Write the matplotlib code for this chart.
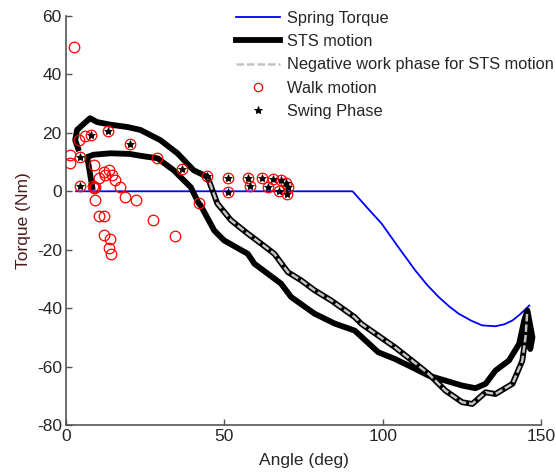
import matplotlib.pyplot as plt

plt.rcParams['font.family'] = ['Liberation Sans', 'DejaVu Sans']
plt.rcParams['axes.unicode_minus'] = False

# Spring torque curve
spring_angle = [3.2, 20, 40, 60, 80, 90.5, 95, 99.7, 105, 110.3, 114, 117.7, 121, 124,
                128, 131.4, 135.6, 138.5, 141, 143.5, 146.3]
spring_torque = [0, 0, 0, 0, 0, 0, -5.5, -11.1, -19.2, -27.1, -32.0, -36.2, -39.4, -41.9,
                 -44.3, -45.9, -46.2, -45.5, -44.2, -42.0, -39.1]

# STS motion (one continuous loop, lower branch out, upper branch back)
sts_angle = [8.3, 7.6, 6.7, 8.6, 14.0, 20.0, 24.4, 28.9, 34.0, 39.4, 41.9,
             42.5, 46.8, 49.9, 57.4, 59.5, 67.9, 71.1, 78.5, 84.9, 91.2, 98.6,
             103.9, 109.2, 114.5, 119.8, 125.1, 129.3, 132.5, 135.6, 139.9, 143.1,
             144.7, 145.7, 147.3, 146.6, 145.6,
             145.1, 144.1, 141.0, 135.6, 132.5, 128.3, 125.1, 119.8, 114.5, 109.2,
             103.9, 98.6, 93.3, 91.2, 83.8, 78.5, 74.3, 70.1, 65.8, 61.6, 57.4,
             52.1, 47.8, 44.7,
             40.3, 35.2, 29.8, 23.5, 19.4, 14.0, 9.8, 7.6, 5.5, 3.5, 2.9, 3.8]
sts_torque = [1.4, 6.0, 11.7, 12.5, 13.0, 12.8, 12.0, 11.3, 7.2, 1.4, -4.1,
              -4.8, -13.4, -16.8, -21.4, -24.8, -31.6, -36.2, -41.9, -45.3, -47.7, -55.1,
              -57.4, -60.2, -63.1, -64.8, -66.5, -67.4, -65.9, -61.4, -57.9, -52.2,
              -44.2, -40.8, -50.0, -54.0, -42.0,
              -50.0, -58.0, -65.9, -69.4, -68.8, -72.8, -72.2, -68.2, -62.5, -57.9,
              -53.4, -49.4, -45.4, -43.1, -37.4, -33.9, -30.5, -27.7, -21.4, -17.9, -14.5,
              -9.9, -4.2, 4.9,
              7.2, 13.0, 17.5, 21.0, 22.0, 22.8, 23.7, 25.0, 23.0, 21.0, 17.5, 14.7]
neg_start = 36  # index where the negative work phase begins
neg_end = 60    # index where it ends

# Walk motion (red circles) - swing points are a subset
swing_angle = [4.4, 4.4, 7.8, 13.3, 20.3, 36.7, 44.5, 51.2, 51.0, 57.6, 58.1, 61.9,
               63.9, 65.3, 67.8, 69.4, 67.3, 69.8, 70.2]
swing_torque = [11.6, 1.7, 19.2, 20.6, 16.1, 7.5, 5.3, 4.4, -0.3, 4.6, 1.9, 4.7,
                1.6, 4.2, 4.0, 3.0, 0.2, -0.9, 1.5]

walk_only_angle = [2.6, 1.4, 1.4, 4.0, 5.9, 8.8, 10.4, 12.4, 12.0, 13.5, 14.6, 15.6,
                   17.1, 18.7, 22.2, 8.7, 9.2, 8.5, 9.3, 10.3, 12.1, 12.0, 14.0,
                   13.5, 14.3, 27.6, 34.3, 28.6, 41.9]
walk_only_torque = [49.3, 12.3, 9.6, 17.5, 18.8, 8.9, 4.5, 5.5, 6.6, 7.2, 5.5, 3.8,
                    1.4, -2.0, -3.1, 1.0, 1.4, 1.8, -3.1, -8.6, -8.6, -15.0, -16.2,
                    -19.5, -21.3, -9.9, -15.4, 11.3, -4.1]

walk_angle = walk_only_angle + swing_angle
walk_torque = walk_only_torque + swing_torque

fig = plt.figure(figsize=(5.56, 4.76), dpi=100)
ax = fig.add_axes([66 / 556, 51 / 476, 475 / 556, 409 / 476])

ax.plot(spring_angle, spring_torque, color='#0000ff', lw=1.3, label='Spring Torque')
ax.plot(sts_angle, sts_torque, color='black', lw=4.2, solid_joinstyle='round',
        label='STS motion')
ax.plot(sts_angle[neg_start:neg_end + 1], sts_torque[neg_start:neg_end + 1],
        color='#c4c4c4', lw=1.8, dashes=(3, 1.2),
        label='Negative work phase for STS motion')
ax.plot(walk_angle, walk_torque, 'o', ms=7.6, mfc='none', mec='red', mew=0.9,
        label='Walk motion')
ax.plot(swing_angle, swing_torque, '*', ms=6, color='black', mew=0.6,
        label='Swing Phase')

ax.set_xlim(0, 150)
ax.set_ylim(-80, 60)
ax.set_xticks([0, 50, 100, 150])
ax.set_yticks(range(-80, 61, 20))
for s in ['top', 'right']:
    ax.spines[s].set_visible(False)
for s in ['left', 'bottom']:
    ax.spines[s].set_color('#555555')
    ax.spines[s].set_linewidth(1.2)
ax.tick_params(direction='in', length=4, width=1, color='#555555',
               labelsize=12.5, labelcolor='#262626', pad=3)
ax.set_xlabel('Angle (deg)', fontsize=12.5, color='#262626', labelpad=6)
ax.set_ylabel('Torque (Nm)', fontsize=12.5, color='#4a1c1c', labelpad=4)

leg = ax.legend(loc='upper left', bbox_to_anchor=(236 / 556, 1 - 11 / 476),
                bbox_transform=fig.transFigure, frameon=False, fontsize=11.8,
                handlelength=2.7, handletextpad=0.4, labelspacing=0.5,
                borderpad=0, borderaxespad=0, numpoints=1, labelcolor='#262626')
leg.legend_handles[3].set_markersize(6)

fig.savefig('out.png', dpi=100)
